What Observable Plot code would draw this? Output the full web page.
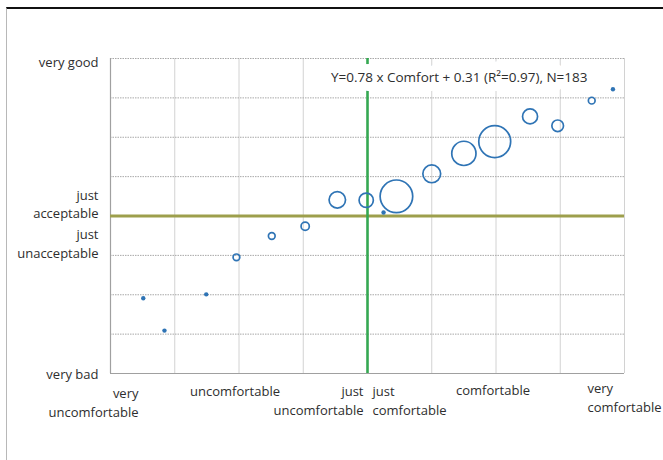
<!DOCTYPE html>
<html>
<head>
<meta charset="utf-8">
<script src="https://cdn.jsdelivr.net/npm/d3@7"></script>
<script src="https://cdn.jsdelivr.net/npm/@observablehq/plot@0.6"></script>
<style>
  html, body { margin: 0; padding: 0; background: #fff; }
  #wrap { position: relative; width: 663px; height: 460px; overflow: hidden; }
  #frame { position: absolute; left: 6px; top: 7px; width: 700px; height: 470px;
           border-top: 2px solid #111; border-left: 1.5px solid #b8b8b8; pointer-events: none; }
</style>
</head>
<body>
<div id="wrap"><div id="frame"></div></div>
<script>
// Data
const comfort       = [-3.49, -3.16, -2.51, -2.04, -1.49, -0.97, -0.47, -0.02, 0.25, 0.45, 1.00, 1.50, 1.98, 2.53, 2.96, 3.49, 3.82];
const acceptability = [-2.09, -2.91, -1.99, -1.05, -0.51, -0.26, 0.41, 0.40, 0.09, 0.50, 1.07, 1.59, 1.89, 2.53, 2.29, 2.93, 3.22];
const counts        = [1, 1, 1, 2, 2, 3, 12, 9, 1, 47, 14, 26, 45, 10, 6, 2, 1];

const xTickValues = [-4, -2, 0, 0, 2, 4];
const xTickLabels = ["very\nuncomfortable", "uncomfortable", "just\nuncomfortable", "just\ncomfortable", "comfortable", "very\ncomfortable"];
const yTickValues = [4, 0, 0, -4];
const yTickLabels = ["very good", "just\nacceptable", "just\nunacceptable", "very bad"];
const gridValues = [-4, -3, -2, -1, 0, 1, 2, 3, 4];
const equationText = "Y=0.78 x Comfort + 0.31 (R\u00b2=0.97), N=183";

const points = comfort.map((c, i) => ({comfort: c, acceptability: acceptability[i], n: counts[i]}));
const xTicks = xTickValues.map((v, i) => ({v, label: xTickLabels[i], i}));
const yTicks = yTickValues.map((v, i) => ({v, label: yTickLabels[i], i}));

const blue = "#2f74b5";
const font = "'Open Sans', sans-serif";
const textColor = "#2e2e2e";

// per-label layout (style, not data)
const xLayout = [
  {anchor: "end", dx: 28, dy: 11},
  {anchor: "middle", dx: -4, dy: 9},
  {anchor: "end", dx: -4, dy: 9},
  {anchor: "start", dx: 5, dy: 9},
  {anchor: "middle", dx: -3, dy: 8},
  {anchor: "start", dx: -37, dy: 6}
];
const yLayout = [
  {dy: 2}, {dy: -13}, {dy: 26.5}, {dy: -1}
];

const xMarks = xTicks.map((t, k) => Plot.text([t], {
  x: "v", text: "label", frameAnchor: "bottom",
  textAnchor: xLayout[k].anchor, dx: xLayout[k].dx, dy: xLayout[k].dy,
  lineAnchor: "top", lineHeight: 1.45, fontSize: 13, fill: textColor, fontFamily: font
}));
const yMarks = yTicks.map((t, k) => Plot.text([t], {
  y: "v", text: "label", frameAnchor: "left",
  textAnchor: "end", dx: -12, dy: yLayout[k].dy,
  lineAnchor: "middle", lineHeight: 1.45, fontSize: 13, fill: textColor, fontFamily: font
}));

const chart = Plot.plot({
  width: 663,
  height: 460,
  marginLeft: 110,
  marginRight: 39,
  marginTop: 58,
  marginBottom: 87,
  style: {background: "transparent", fontFamily: font},
  x: {domain: [-4, 4], axis: null},
  y: {domain: [-4, 4], axis: null},
  r: {type: "sqrt", domain: [0, 47], range: [0, 16.3]},
  marks: [
    Plot.gridX(gridValues, {stroke: "#d2d2d2", strokeOpacity: 1, strokeWidth: 1}),
    Plot.gridY(gridValues, {stroke: "#a8a8a8", strokeOpacity: 1, strokeWidth: 1, strokeDasharray: "1.5,1"}),
    Plot.ruleY([-4], {stroke: "#a0a0a0", strokeWidth: 1.2}),
    Plot.ruleX([-4], {stroke: "#a0a0a0", strokeWidth: 1.2}),
    Plot.ruleY([0], {stroke: "#9d9f4c", strokeWidth: 2.8}),
    Plot.ruleX([0], {stroke: "#35a852", strokeWidth: 2.6}),
    Plot.dot(points.filter(d => d.n > 1), {
      x: "comfort", y: "acceptability", r: "n",
      stroke: blue, strokeWidth: 1.7, fill: "none"
    }),
    Plot.dot(points.filter(d => d.n === 1), {
      x: "comfort", y: "acceptability", r: d => d.n * 0.85,
      fill: blue, stroke: "none"
    }),
    Plot.text([equationText], {
      text: d => d, frameAnchor: "top-right", textAnchor: "end", lineAnchor: "middle",
      dx: -37, dy: 19, fontSize: 13.5, fill: textColor, fontFamily: font,
      stroke: "white", strokeWidth: 18, strokeLinejoin: "round"
    }),
    ...xMarks,
    ...yMarks
  ]
});
document.getElementById("wrap").prepend(chart);
</script>
</body>
</html>
